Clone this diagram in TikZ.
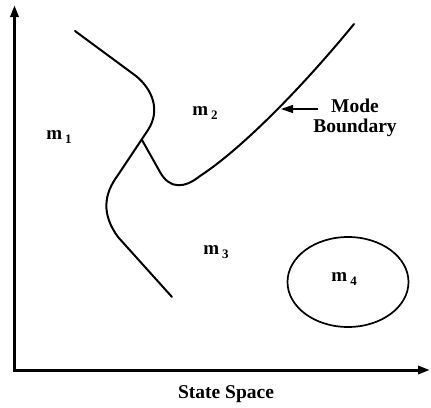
\documentclass[tikz,border=0pt]{standalone}
\usepackage{fontspec}
\setmainfont{Liberation Serif}
\usepackage{tikz}
\usetikzlibrary{arrows.meta,positioning}
\definecolor{ink}{RGB}{0,0,0}

\newcommand{\modelabel}[1]{\fontsize{19}{21}\selectfont\bfseries m\,\raisebox{-4pt}{\fontsize{13}{14}\selectfont #1}}

\begin{document}
\begin{tikzpicture}[x=1pt,y=-1pt]
  \useasboundingbox (0,0) rectangle (431,407);
  % axes
  \coordinate (origin) at (14.5,370);
  \coordinate (ytop) at (14.5,5);
  \coordinate (xend) at (430,370);
  \draw[-{Triangle[length=12pt,width=8pt]},line width=3pt,color=ink] (origin) -- (ytop);
  \draw[-{Triangle[length=12pt,width=8pt]},line width=3pt,color=ink] ([xshift=-1.5pt]origin) -- (xend);
  \node[font=\fontsize{19.5}{21}\selectfont\bfseries] (statespace) at (226,394) {State Space};

  % mode boundaries
  \coordinate (fork) at (142,140);
  \draw[line width=2pt,color=ink,line cap=round] (75,31) -- (136,76)
    .. controls (152,89) and (161,110) .. (148,130) -- (118,175)
    .. controls (103,195) and (102,215) .. (118,237) -- (172,297);
  \draw[line width=2pt,color=ink,line cap=round] (fork) -- (160,172)
    .. controls (170,190) and (185,188) .. (200,176)
    .. controls (240,150) and (300,90) .. (354,24);
  \draw[line width=1.7pt,color=ink] (348,282) ellipse (60.5 and 45);

  % labels
  \node (m1) at (59,137) {\modelabel{1}};
  \node (m2) at (205,113) {\modelabel{2}};
  \node (m3) at (216,252) {\modelabel{3}};
  \node (m4) at (344,279) {\modelabel{4}};

  \node[align=center,font=\fontsize{19.5}{19.5}\selectfont\bfseries] (boundary) at (355,118) {Mode\\Boundary};
  \coordinate (hit) at (281,109);
  \draw[-{Triangle[length=12pt,width=8pt]},line width=1.2pt,color=ink] (318,109) -- (hit);
\end{tikzpicture}
\end{document}
